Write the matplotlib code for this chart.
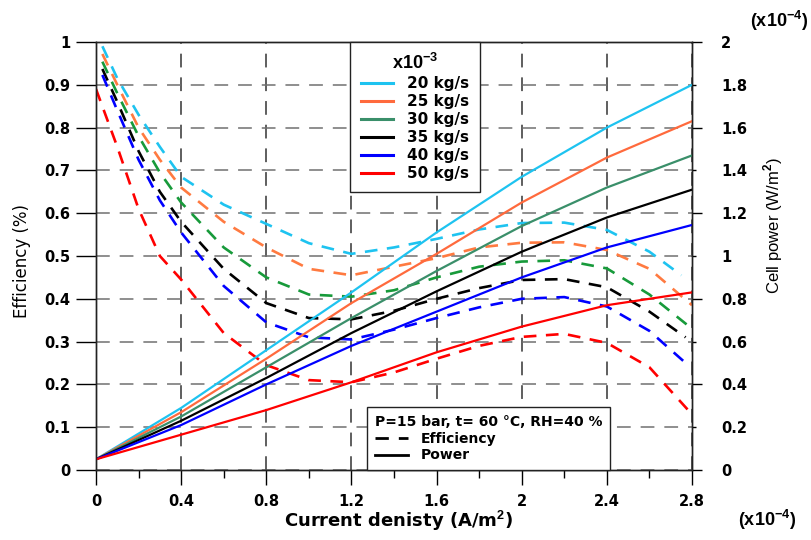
import matplotlib
matplotlib.use('Agg')
import matplotlib.pyplot as plt
from matplotlib.lines import Line2D

plt.rcParams['font.family'] = ['DejaVu Sans']
plt.rcParams['font.weight'] = 'bold'
plt.rcParams['mathtext.fontset'] = 'custom'
plt.rcParams['mathtext.rm'] = 'Liberation Sans:bold'
plt.rcParams['mathtext.bf'] = 'Liberation Sans:bold'

# ---------------- data ----------------
series_labels = ['20 kg/s', '25 kg/s', '30 kg/s', '35 kg/s', '40 kg/s', '50 kg/s']
solid_colors = ['#1EC3F0', '#FF6A3D', '#3A8F6A', '#000000', '#0000FF', '#FF0000']
dash_colors = ['#1EC3F0', '#FF7A40', '#179A3A', '#000000', '#0000FF', '#FF0000']

# Power (right axis, x1e-4 W/m2)
power_x = [0.0, 0.4, 0.8, 1.2, 1.6, 2.0, 2.4, 2.8]
power_20 = [0.05, 0.29, 0.56, 0.83, 1.11, 1.37, 1.60, 1.80]
power_25 = [0.05, 0.27, 0.52, 0.78, 1.01, 1.25, 1.46, 1.63]
power_30 = [0.05, 0.25, 0.48, 0.71, 0.93, 1.14, 1.32, 1.47]
power_35 = [0.05, 0.23, 0.43, 0.64, 0.835, 1.02, 1.18, 1.31]
power_40 = [0.05, 0.21, 0.40, 0.58, 0.74, 0.90, 1.04, 1.145]
power_50 = [0.05, 0.165, 0.28, 0.41, 0.55, 0.67, 0.77, 0.83]
power_series = [power_20, power_25, power_30, power_35, power_40, power_50]

# Efficiency (left axis)
eff_x_mid = [0.1, 0.2, 0.3, 0.4, 0.6, 0.8, 1.0, 1.2, 1.4, 1.6, 1.8, 2.0, 2.2, 2.4, 2.6]
eff_x_first = [0.03, 0.03, 0.03, 0.03, 0.03, 0.0]
eff_x_last = [2.75, 2.8, 2.8, 2.77, 2.77, 2.8]
eff_20 = [0.99, 0.915, 0.83, 0.755, 0.685, 0.62, 0.575, 0.53, 0.505, 0.52, 0.54, 0.562, 0.577, 0.578, 0.561, 0.51, 0.455]
eff_25 = [0.972, 0.9, 0.80, 0.725, 0.66, 0.58, 0.52, 0.47, 0.455, 0.475, 0.495, 0.52, 0.531, 0.532, 0.514, 0.47, 0.385]
eff_30 = [0.954, 0.88, 0.78, 0.695, 0.625, 0.52, 0.45, 0.41, 0.405, 0.42, 0.45, 0.475, 0.487, 0.49, 0.471, 0.41, 0.33]
eff_35 = [0.937, 0.86, 0.745, 0.65, 0.58, 0.47, 0.39, 0.355, 0.352, 0.372, 0.40, 0.425, 0.444, 0.446, 0.427, 0.37, 0.31]
eff_40 = [0.923, 0.84, 0.725, 0.63, 0.555, 0.43, 0.345, 0.31, 0.305, 0.328, 0.355, 0.38, 0.40, 0.404, 0.382, 0.325, 0.25]
eff_50 = [0.89, 0.755, 0.61, 0.50, 0.445, 0.32, 0.245, 0.21, 0.205, 0.228, 0.26, 0.29, 0.311, 0.318, 0.297, 0.24, 0.13]
eff_series = [eff_20, eff_25, eff_30, eff_35, eff_40, eff_50]

x_ticks = [0, 0.4, 0.8, 1.2, 1.6, 2.0, 2.4, 2.8]
x_tick_labels = ['0', '0.4', '0.8', '1.2', '1.6', '2', '2.4', '2.8']
x_minor = [0.2, 0.6, 1.0, 1.4, 1.8, 2.2, 2.6]
y_ticks = [0, 0.1, 0.2, 0.3, 0.4, 0.5, 0.6, 0.7, 0.8, 0.9, 1.0]
y_tick_labels = ['0', '0.1', '0.2', '0.3', '0.4', '0.5', '0.6', '0.7', '0.8', '0.9', '1']
y2_major = [0, 0.4, 0.8, 1.2, 1.6, 2.0]
y2_major_labels = ['0', '0.4', '0.8', '1.2', '1.6', '2']
y2_minor = [0.2, 0.6, 1.0, 1.4, 1.8]
y2_minor_labels = ['0.2', '0.6', '1', '1.4', '1.8']

# ---------------- figure ----------------
fig = plt.figure(figsize=(8.11, 5.40), dpi=100)
ax = fig.add_axes([96 / 811, 1 - 470 / 540, (692 - 96) / 811, (470 - 42) / 540])
ax2 = ax.twinx()

ax.set_xlim(0, 2.8)
ax.set_ylim(0, 1)
ax2.set_ylim(0, 2)

ax.xaxis.grid(True, color='#333333', linestyle=(0, (9, 6.5)), linewidth=1.1)
ax.yaxis.grid(True, color='#707070', linestyle=(0, (9, 6.5)), linewidth=1.1)
ax.set_axisbelow(True)

for i in range(6):
    xs = [eff_x_first[i]] + eff_x_mid + [eff_x_last[i]]
    ax.plot(xs, eff_series[i], color=dash_colors[i], linewidth=1.9, dashes=(4.8, 3.6), solid_capstyle='butt')
    ax2.plot(power_x, power_series[i], color=solid_colors[i], linewidth=1.6)

for a in (ax, ax2):
    for s in a.spines.values():
        s.set_linewidth(1.0)
        s.set_color('#222222')

ax.set_xticks(x_ticks, x_tick_labels)
ax.set_xticks(x_minor, minor=True)
ax.tick_params(axis='x', which='major', direction='out', length=11, width=1, pad=6, labelsize=10.5)
ax.tick_params(axis='x', which='minor', direction='out', length=6, width=1)
ax.set_yticks(y_ticks, y_tick_labels)
ax.tick_params(axis='y', which='major', direction='out', length=14.4, width=1, pad=4, labelsize=10.5)

ax2.set_yticks(y2_major, y2_major_labels)
ax2.set_yticks(y2_minor, y2_minor_labels, minor=True)
ax2.tick_params(axis='y', which='major', direction='out', length=7, width=1, pad=14, labelsize=10.5)
ax2.tick_params(axis='y', which='minor', direction='out', length=3, width=1, pad=18, labelsize=10.5)

# labels
fig.text(398 / 811, 1 - 521 / 540, 'Current denisty (A/m$^{2}$)', ha='center', va='center',
         fontsize=13, fontweight='bold')
fig.text(22 / 811, 1 - 261 / 540, 'Efficiency (%)', ha='center', va='center', rotation=90,
         fontsize=12, fontweight='normal')
fig.text(773 / 811, 1 - 226 / 540, 'Cell power (W/m$^{2}$)', ha='center', va='center', rotation=90,
         fontsize=12, fontweight='normal', family=['Liberation Sans', 'DejaVu Sans'])
fig.text(779 / 811, 1 - 21 / 540, '(x10$^{-4}$)', ha='center', va='center', fontsize=13,
         family=['Liberation Sans', 'DejaVu Sans'])
fig.text(767 / 811, 1 - 520 / 540, '(x10$^{-4}$)', ha='center', va='center', fontsize=13,
         family=['Liberation Sans', 'DejaVu Sans'])

# legends
h1 = [Line2D([], [], color=c, linewidth=2.2) for c in solid_colors]
leg1 = ax2.legend(h1, series_labels, title='x10$^{-3}$', loc='upper left',
                  bbox_to_anchor=(0.427, 1.0), frameon=True, fancybox=False,
                  edgecolor='#222222', framealpha=1, fontsize=11, title_fontsize=13,
                  handlelength=2.1, labelspacing=0.2, borderpad=0.7, handletextpad=0.9,
                  borderaxespad=0)
leg1.get_frame().set_linewidth(1.0)
leg1.get_title().set_family(['Liberation Sans', 'DejaVu Sans'])
ax2.add_artist(leg1)

h2 = [Line2D([], [], color='k', linewidth=2.0, dashes=(4.8, 3.6)),
      Line2D([], [], color='k', linewidth=2.0)]
leg2 = ax2.legend(h2, ['Efficiency', 'Power'], title='P=15 bar, t= 60 °C, RH=40 %',
                  loc='lower left', bbox_to_anchor=(0.455, 0.0), alignment='left',
                  frameon=True, fancybox=False, edgecolor='#222222', framealpha=1,
                  fontsize=10, title_fontsize=10, handlelength=2.4, labelspacing=0.2,
                  borderpad=0.55, handletextpad=0.9, borderaxespad=0)
leg2.get_frame().set_linewidth(1.0)

fig.savefig('out.png', dpi=100)
